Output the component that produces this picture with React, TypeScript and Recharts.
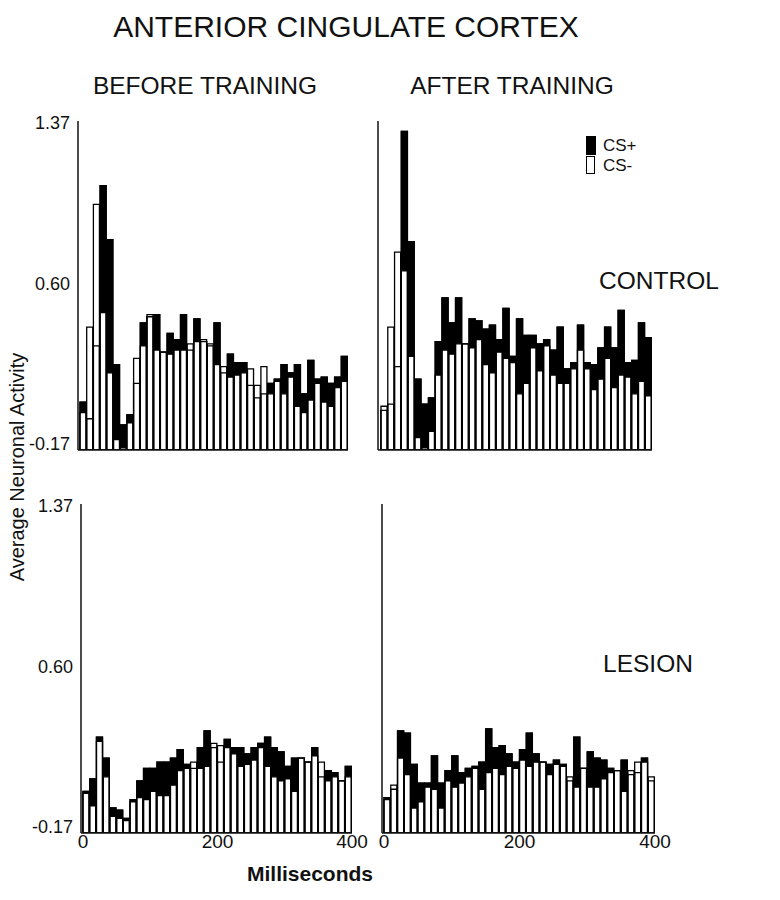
import React from "react";
import { BarChart, Bar, XAxis, YAxis } from "recharts";

// bin centres in ms (10 ms bins, 0-400)
const MS = [
  5, 15, 25, 35, 45, 55, 65, 75, 85, 95, 105, 115, 125, 135, 145, 155, 165, 175, 185, 195,
  205, 215, 225, 235, 245, 255, 265, 275, 285, 295, 305, 315, 325, 335, 345, 355, 365, 375, 385, 395,
];

// control, before training
const CTRL_BEFORE_PLUS = [
  0.03, -0.05, 0.30, 1.07, 0.81, 0.21, -0.08, -0.03, 0.12, 0.41, 0.44, 0.45, 0.27, 0.36, 0.33, 0.45, 0.28, 0.43, 0.32, 0.30,
  0.41, 0.17, 0.26, 0.22, 0.22, 0.11, 0.05, 0.07, 0.12, 0.14, 0.21, 0.17, 0.21, 0.07, 0.23, 0.14, 0.15, 0.12, 0.15, 0.25,
];
const CTRL_BEFORE_MINUS = [
  -0.02, 0.39, 0.98, 0.46, 0.17, -0.15, -0.19, -0.07, 0.24, 0.30, 0.45, 0.28, 0.27, 0.26, 0.28, 0.28, 0.31, 0.32, 0.33, 0.31,
  0.21, 0.20, 0.15, 0.16, 0.17, 0.19, 0.11, 0.20, 0.07, 0.13, 0.07, 0.15, 0.01, -0.02, 0.04, 0.12, 0.03, 0.01, 0.10, 0.13,
];

// control, after training
const CTRL_AFTER_PLUS = [
  -0.01, 0.02, 0.20, 1.33, 0.80, 0.14, 0.02, 0.05, 0.32, 0.53, 0.41, 0.53, 0.31, 0.43, 0.42, 0.38, 0.40, 0.33, 0.48, 0.25,
  0.43, 0.35, 0.35, 0.31, 0.33, 0.28, 0.39, 0.19, 0.22, 0.40, 0.22, 0.21, 0.29, 0.39, 0.29, 0.47, 0.22, 0.23, 0.41, 0.34,
];
const CTRL_AFTER_MINUS = [
  0.01, 0.39, 0.75, 0.66, 0.25, -0.14, -0.19, -0.11, 0.16, 0.28, 0.26, 0.31, 0.31, 0.29, 0.33, 0.21, 0.17, 0.27, 0.24, 0.22,
  0.07, 0.12, 0.29, 0.18, 0.30, 0.16, 0.12, 0.12, 0.19, 0.28, 0.19, 0.09, 0.14, 0.24, 0.10, 0.16, 0.15, 0.07, 0.13, 0.06,
];

// lesion, before training
const LES_BEFORE_PLUS = [
  0.00, 0.06, 0.26, 0.16, -0.08, -0.09, -0.13, -0.04, 0.05, 0.11, 0.11, 0.14, 0.14, 0.16, 0.20, 0.13, 0.11, 0.21, 0.29, 0.21,
  0.14, 0.25, 0.21, 0.21, 0.18, 0.21, 0.23, 0.26, 0.21, 0.19, 0.12, 0.16, 0.16, 0.14, 0.21, 0.07, 0.10, 0.09, 0.05, 0.12,
];
const LES_BEFORE_MINUS = [
  -0.01, -0.07, 0.24, 0.07, -0.12, -0.13, -0.14, -0.05, -0.03, -0.04, 0.00, -0.02, -0.02, 0.03, 0.10, 0.11, 0.14, 0.11, 0.12, 0.23,
  0.22, 0.21, 0.18, 0.12, 0.13, 0.15, 0.21, 0.12, 0.07, 0.05, 0.06, 0.00, 0.16, 0.14, 0.17, 0.14, 0.05, 0.07, 0.05, 0.07,
];

// lesion, after training
const LES_AFTER_PLUS = [
  -0.03, 0.01, 0.29, 0.28, 0.13, 0.04, 0.04, 0.17, 0.04, 0.10, 0.17, 0.09, 0.11, 0.12, 0.14, 0.30, 0.21, 0.22, 0.18, 0.14,
  0.20, 0.28, 0.18, 0.14, 0.13, 0.15, 0.13, 0.05, 0.26, 0.11, 0.19, 0.16, 0.15, 0.11, 0.10, 0.15, 0.08, 0.09, 0.16, 0.05,
];
const LES_AFTER_MINUS = [
  -0.04, 0.03, 0.16, 0.08, -0.08, -0.05, 0.02, 0.01, -0.08, 0.05, 0.02, 0.04, 0.07, 0.11, 0.01, 0.09, 0.11, 0.08, 0.12, 0.11,
  0.15, 0.12, 0.14, 0.14, 0.08, 0.13, 0.12, 0.07, 0.02, 0.11, 0.02, 0.02, 0.06, 0.09, 0.10, 0.00, 0.10, 0.14, 0.14, 0.07,
];

const Y_FLOOR = -0.2;
const Y_TOP = 1.38;
const Y_TICKS = [-0.17, 0.6, 1.37];
const X_TICKS = [0, 200, 400];

const FONT = '"Liberation Sans", Arial, Helvetica, sans-serif';
const INK = "#111";

interface PanelProps {
  plus: number[];
  minus: number[];
  left: number;
  top: number;
  width: number;
  yWidth: number;
  marginRight: number;
  padLeft: number;
  showYTicks: boolean;
  showXTicks: boolean;
}

const Panel: React.FC<PanelProps> = ({ plus, minus, left, top, width, yWidth, marginRight, padLeft, showYTicks, showXTicks }) => {
  const data = MS.map((t, i) => ({ t, plus: plus[i], minus: minus[i] }));
  const xHeight = showXTicks ? 30 : 10;
  const height = 10 + 329 + xHeight;
  const barSize = (width - yWidth - marginRight - padLeft) / MS.length;
  const hiddenAxis = (id: string) => (
    <XAxis xAxisId={id} type="number" dataKey="t" domain={[0, 400]} padding={{ left: padLeft, right: 0 }} hide />
  );

  return (
    <div style={{ position: "absolute", left, top }}>
      <BarChart
        width={width}
        height={height}
        data={data}
        margin={{ top: 10, right: marginRight, bottom: 0, left: 0 }}
        barCategoryGap={0}
        barGap={0}
      >
        <XAxis
          xAxisId="a"
          type="number"
          dataKey="t"
          domain={[0, 400]}
          ticks={X_TICKS}
          padding={{ left: padLeft, right: 0 }}
          height={xHeight}
          axisLine={{ stroke: INK, strokeWidth: 1.5 }}
          tickLine={false}
          tickSize={0}
          tickMargin={2}
          tick={showXTicks ? { fontSize: 19, fill: INK, fontFamily: FONT } : false}
        />
        {hiddenAxis("b")}
        {hiddenAxis("c")}
        <YAxis
          type="number"
          domain={[Y_FLOOR, Y_TOP]}
          ticks={Y_TICKS}
          allowDataOverflow
          width={yWidth}
          axisLine={{ stroke: INK, strokeWidth: 1.5 }}
          tickLine={false}
          tick={showYTicks ? { fontSize: 18, fill: INK, fontFamily: FONT } : false}
          tickFormatter={(v: number) => v.toFixed(2)}
        />
        {/* CS+ filled black, CS- white on top, then CS+ outline so its level shows inside taller CS- bars */}
        <Bar xAxisId="a" dataKey={(d: any) => [Y_FLOOR, d.plus]} fill="#000" stroke="#000" strokeWidth={1.3} barSize={barSize} isAnimationActive={false} />
        <Bar xAxisId="b" dataKey={(d: any) => [Y_FLOOR, d.minus]} fill="#fff" stroke="#000" strokeWidth={1.3} barSize={barSize} isAnimationActive={false} />
        <Bar xAxisId="c" dataKey={(d: any) => [Y_FLOOR, d.plus]} fill="none" stroke="#000" strokeWidth={1.3} barSize={barSize} isAnimationActive={false} />
      </BarChart>
    </div>
  );
};

const Label = ({ text, cx, cy, size, weight = "normal" }: { text: string; cx: number; cy: number; size: number; weight?: string }) => (
  <div
    style={{
      position: "absolute",
      left: cx - 300,
      width: 600,
      top: cy - 0.488 * size,
      textAlign: "center",
      fontSize: size,
      lineHeight: 1,
      fontFamily: FONT,
      fontWeight: weight as any,
      color: INK,
      whiteSpace: "nowrap",
    }}
  >
    {text}
  </div>
);

export default function App() {
  return (
    <div style={{ position: "absolute", left: 0, top: 0, width: 780, height: 900, background: "#fff", overflow: "hidden" }}>
      <Label text="ANTERIOR CINGULATE CORTEX" cx={346} cy={27} size={30} />
      <Label text="BEFORE TRAINING" cx={205} cy={86} size={24.5} />
      <Label text="AFTER TRAINING" cx={512} cy={86} size={24.5} />
      <Label text="CONTROL" cx={659} cy={281} size={24.5} />
      <Label text="LESION" cx={648} cy={664} size={24.5} />

      <Panel plus={CTRL_BEFORE_PLUS} minus={CTRL_BEFORE_MINUS} left={0} top={111} width={360} yWidth={78} marginRight={12} padLeft={2} showYTicks showXTicks={false} />
      <Panel plus={CTRL_AFTER_PLUS} minus={CTRL_AFTER_MINUS} left={370} top={111} width={284} yWidth={8} marginRight={2} padLeft={3} showYTicks={false} showXTicks={false} />
      <Panel plus={LES_BEFORE_PLUS} minus={LES_BEFORE_MINUS} left={0} top={494} width={380} yWidth={81} marginRight={28} padLeft={2} showYTicks showXTicks />
      <Panel plus={LES_AFTER_PLUS} minus={LES_AFTER_MINUS} left={370} top={494} width={310} yWidth={12} marginRight={25} padLeft={2} showYTicks={false} showXTicks />

      {/* legend */}
      <div style={{ position: "absolute", left: 586, top: 136, width: 10, height: 19, background: "#000" }} />
      <div style={{ position: "absolute", left: 586, top: 156, width: 7, height: 16, background: "#fff", border: "1.5px solid #000" }} />
      <div style={{ position: "absolute", left: 603, top: 137, fontSize: 17, lineHeight: 1, fontFamily: FONT, color: INK }}>CS+</div>
      <div style={{ position: "absolute", left: 603, top: 157, fontSize: 17, lineHeight: 1, fontFamily: FONT, color: INK }}>CS-</div>

      {/* axis titles */}
      <div
        style={{
          position: "absolute",
          left: 17 - 200,
          width: 400,
          top: 467 - 10,
          height: 20,
          transform: "rotate(-90deg)",
          textAlign: "center",
          fontSize: 20,
          lineHeight: 1,
          fontFamily: FONT,
          color: INK,
          whiteSpace: "nowrap",
        }}
      >
        Average Neuronal Activity
      </div>
      <Label text="Milliseconds" cx={310} cy={873} size={21} weight="bold" />
    </div>
  );
}
